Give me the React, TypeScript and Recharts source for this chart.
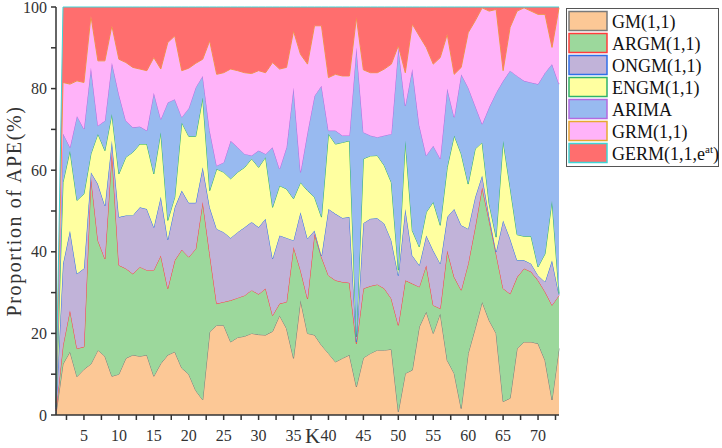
import { Area, AreaChart, Legend, XAxis, YAxis } from "recharts"

// K = step index
const K = [
  1, 2, 3, 4, 5, 6, 7, 8, 9, 10, 11, 12, 13, 14, 15, 16, 17, 18, 19, 20, 21, 22, 23, 24, 25,
  26, 27, 28, 29, 30, 31, 32, 33, 34, 35, 36, 37, 38, 39, 40, 41, 42, 43, 44, 45, 46, 47, 48, 49,
  50, 51, 52, 53, 54, 55, 56, 57, 58, 59, 60, 61, 62, 63, 64, 65, 66, 67, 68, 69, 70, 71, 72, 73,
]

// share of APE per model (%)
const GM = [
  0.3, 12.5, 15.5, 9.4, 11.2, 12.5, 15.9, 14.4, 9.5, 10, 13.9, 14.7, 14.4, 14.7, 9.5, 12.6, 14.7, 15.5,
  11.5, 10, 6, 3.7, 20.4, 22, 22, 17.9, 19, 19.3, 20, 19.7, 19.6, 20.5, 24.4, 21.2, 13.9, 28.1, 20, 19.6,
  17.1, 15.1, 13, 13.9, 14.7, 6.9, 14, 15.1, 15.9, 15.9, 16.1, 0.8, 10.2, 11, 21.6, 25.3, 20, 24.9, 13.4,
  10.2, 1.6, 15.1, 21.2, 27.7, 23.2, 20, 3.3, 4.1, 16.3, 17.9, 17.9, 17.5, 13.4, 3.7, 16.3,
]
const ARGM = [
  0.7, 4.5, 10.2, 6.9, 5.5, 45.8, 26.9, 23.9, 54.9, 26.7, 22, 19.9, 21.9, 20.8, 26, 26.5, 16.3, 22.4,
  29, 28.7, 34.7, 48.5, 19.1, 5.3, 5.7, 10.2, 9.7, 10, 10.6, 9.9, 11.4, 3.9, 2.9, 6.5, 27.3, 7.4, 8.5, 24.8,
  21.6, 19.1, 20, 18.7, 17.7, 10.6, 17, 16.5, 16.1, 15.1, 12.4, 21.2, 22.8, 21.2, 9.8, 11.4, 6.9, 1.2, 26.9,
  23.6, 29, 22, 24.8, 28.1, 24.5, 19.5, 27.7, 25.6, 17.5, 18, 17.2, 15.5, 16.8, 23.2, 13,
]
const ONGM = [
  0.5, 20, 19.5, 18.3, 19.2, 1.2, 13.8, 13, 2.8, 11.8, 13, 14.3, 14.6, 15, 10.5, 14.4, 12, 13,
  14.5, 13.3, 11.3, 8.5, 11.4, 18.3, 17.1, 15.3, 16.1, 16.7, 16.7, 16.4, 17.1, 13.9, 16.7, 15.7, 1.6, 14.2, 14.7, 0.8,
  0.3, 16.3, 16.3, 15.7, 16.1, 0.4, 16, 16.5, 16.2, 15.9, 14.3, 12.2, 17.5, 6.9, 5.3, 7.3, 13.4, 11, 8.2,
  16.7, 15.9, 8.5, 7.4, 2.9, 1, 0.5, 16.7, 13.5, 4.1, 2, 2, 1.2, 2.4, 11, 0.2,
]
const ENGM = [
  0.5, 20, 19.6, 18, 18.3, 4.5, 12.3, 13.5, 6.6, 10.6, 14.3, 15.5, 15.5, 15.9, 13.1, 15.8, 4.7, 2.5,
  16.7, 16.3, 16.3, 17.1, 4.1, 14.7, 14.7, 14.5, 14.7, 14.7, 15.5, 14.7, 15.1, 12.6, 12.2, 12, 10.2, 7.3, 11.8, 8.2,
  9.5, 18.4, 17.1, 18.5, 18.7, 1.3, 15.8, 15.4, 15.4, 14.2, 14.2, 1.3, 16.7, 6.1, 4.5, 5.7, 11.9, 9.4, 12.2,
  18, 17.5, 11, 11.8, 8.1, 3.1, 3.6, 19.5, 12.6, 6.3, 5.9, 6.7, 2.1, 6.9, 14.7, 0.3,
]
const ARIMA = [
  0.5, 12, 0.8, 20.7, 15.9, 21.2, 2, 7.3, 12.6, 19.5, 8.9, 6.1, 4.3, 3.3, 19.9, 3.2, 28.9, 24,
  1.3, 6.9, 12, 5.3, 14.7, 0.8, 2.4, 9.3, 6.1, 3.3, 0.8, 4.1, 0.8, 14.7, 4.1, 10.2, 27.3, 2.5, 14.3, 24.8,
  32.2, 0.8, 3.3, 1.7, 1.3, 70.9, 6.5, 5, 4.5, 7.4, 11.9, 54.6, 8.6, 39.6, 29.8, 13.9, 13.8, 16.3, 19.3,
  4.5, 19.5, 23.7, 10.6, 4.5, 23.6, 35.4, 14.7, 28.6, 38.9, 38.1, 37.7, 44.8, 44.4, 33.4, 51.3,
]
const GRM = [
  0.5, 12.5, 15.5, 8.6, 11.4, 12.6, 15.9, 14.7, 9, 8.6, 14.3, 14.7, 14.1, 14.7, 8.6, 12.3, 14.7, 15.5,
  11.4, 9.8, 5.9, 4.1, 22, 22.4, 22, 17.6, 18.8, 19.9, 20.1, 19.6, 19.9, 20.8, 24.5, 19.6, 13.8, 28.9, 16.7, 17.2,
  14.7, 13, 13.8, 14.6, 14.6, 7.3, 15.3, 15.4, 15.8, 16.3, 17.1, 0.4, 8.1, 11, 21.9, 26.5, 20, 24.8, 13.3,
  10.5, 1.7, 13.4, 20.8, 28.5, 23.6, 20.4, 2.5, 10.6, 15.9, 17.9, 17.5, 17.1, 14.3, 4.1, 18.7,
]
const GERM = [
  0.5, 18.5, 18.9, 18.1, 18.5, 2.2, 13.2, 13.2, 4.6, 12.8, 13.6, 14.8, 15.2, 15.6, 12.4, 15.2, 8.7, 7.1,
  15.6, 15, 13.8, 12.8, 8.3, 16.5, 16.1, 15.2, 15.6, 16.1, 16.3, 15.6, 16.1, 13.6, 15.2, 14.8, 5.9, 11.6, 14, 4.6,
  4.6, 17.3, 16.5, 16.9, 16.9, 2.6, 15.4, 16.1, 16.1, 15.2, 14, 9.5, 16.1, 4.2, 7.1, 9.9, 14, 12.4, 6.7,
  16.5, 14.8, 6.3, 3.4, 0.2, 1, 0.6, 15.6, 5, 1, 0.2, 1, 1.8, 1.8, 9.9, 0.2,
]

const X_TICKS = [
  2.5, 5, 7.5, 10, 12.5, 15, 17.5, 20, 22.5, 25, 27.5, 30, 32.5, 35, 37.5, 40, 42.5, 45, 47.5, 50,
  52.5, 55, 57.5, 60, 62.5, 65, 67.5, 70, 72.5,
]
const Y_TICKS = [0, 10, 20, 30, 40, 50, 60, 70, 80, 90, 100]

const series = [
  { key: "gm", name: "GM(1,1)", values: GM, fill: "#fcc896", stroke: "#7a7a7a" },
  { key: "argm", name: "ARGM(1,1)", values: ARGM, fill: "#9cd89c", stroke: "#ff3b3b" },
  { key: "ongm", name: "ONGM(1,1)", values: ONGM, fill: "#c1b3d9", stroke: "#2f6fe8" },
  { key: "engm", name: "ENGM(1,1)", values: ENGM, fill: "#ffffa0", stroke: "#2fb36a" },
  { key: "arima", name: "ARIMA", values: ARIMA, fill: "#98baf0", stroke: "#b36ae0" },
  { key: "grm", name: "GRM(1,1)", values: GRM, fill: "#ffb3f9", stroke: "#e6a830" },
  { key: "germ", name: "GERM(1,1,e", values: GERM, fill: "#ff6e6e", stroke: "#3fd6d6" },
]

const data = K.map((k, i) => {
  const row: Record<string, number> = { k }
  series.forEach((s) => {
    row[s.key] = s.values[i]
  })
  return row
})

const serif = "Liberation Serif, Times New Roman, DejaVu Serif, serif"

function LegendBox() {
  return (
    <svg width={154} height={160} style={{ fontFamily: serif }}>
      <rect x={0.5} y={0.5} width={152} height={158} fill="#fff" stroke="#555" />
      {series.map((s, i) => (
        <g key={s.key}>
          <rect x={3} y={3.5 + i * 22} width={38} height={19} fill={s.fill} stroke={s.stroke} strokeWidth={1.5} />
          <text x={46} y={19.5 + i * 22} style={{ fontFamily: serif }} fontSize={18} fill="#111">
            {s.name}
            {s.key === "germ" && (
              <>
                <tspan fontSize={11} dy={-7}>at</tspan>
                <tspan dy={7}>)</tspan>
              </>
            )}
          </text>
        </g>
      ))}
    </svg>
  )
}

export default function App() {
  const tickStyle = { fontSize: 16, fill: "#333", style: { fontFamily: serif } }
  const lineStyle = { stroke: "#333", strokeWidth: 1.5 }

  return (
    <div style={{ position: "absolute", left: 0, top: 0, background: "#fff", fontFamily: serif }}>
      <AreaChart width={722} height={448} data={data} margin={{ top: 7, right: 163, bottom: 0, left: 0 }}>
        <XAxis
          dataKey="k"
          type="number"
          domain={[1, 73]}
          ticks={X_TICKS}
          interval={0}
          tickFormatter={(v) => (v % 5 === 0 ? String(v) : "")}
          tick={tickStyle}
          tickSize={5}
          tickMargin={10}
          axisLine={lineStyle}
          tickLine={lineStyle}
          height={33}
          label={{
            value: "K",
            position: "insideBottom",
            offset: 5,
            dx: 5,
            style: { fontFamily: serif, fontSize: 21, fill: "#333" },
          }}
        />
        <YAxis
          type="number"
          domain={[0, 100]}
          ticks={Y_TICKS}
          interval={0}
          tickFormatter={(v) => (v % 20 === 0 ? String(v) : "")}
          tick={tickStyle}
          tickSize={5}
          tickMargin={4}
          axisLine={lineStyle}
          tickLine={lineStyle}
          width={56}
          label={{
            value: "Proportion of APE(%)",
            angle: -90,
            position: "insideLeft",
            offset: 14,
            style: { fontFamily: serif, fontSize: 20, fill: "#333", textAnchor: "middle", letterSpacing: 1.6 },
          }}
        />
        {series.map((s) => (
          <Area
            key={s.key}
            type="linear"
            dataKey={s.key}
            name={s.name}
            stackId="1"
            fill={s.fill}
            fillOpacity={1}
            stroke={s.stroke}
            strokeWidth={1}
            isAnimationActive={false}
          />
        ))}
        <Legend
          layout="vertical"
          align="center"
          verticalAlign="middle"
          width={154}
          height={160}
          wrapperStyle={{ left: 566, top: 8, width: 154, height: 160 }}
          content={() => <LegendBox />}
        />
      </AreaChart>
    </div>
  )
}
